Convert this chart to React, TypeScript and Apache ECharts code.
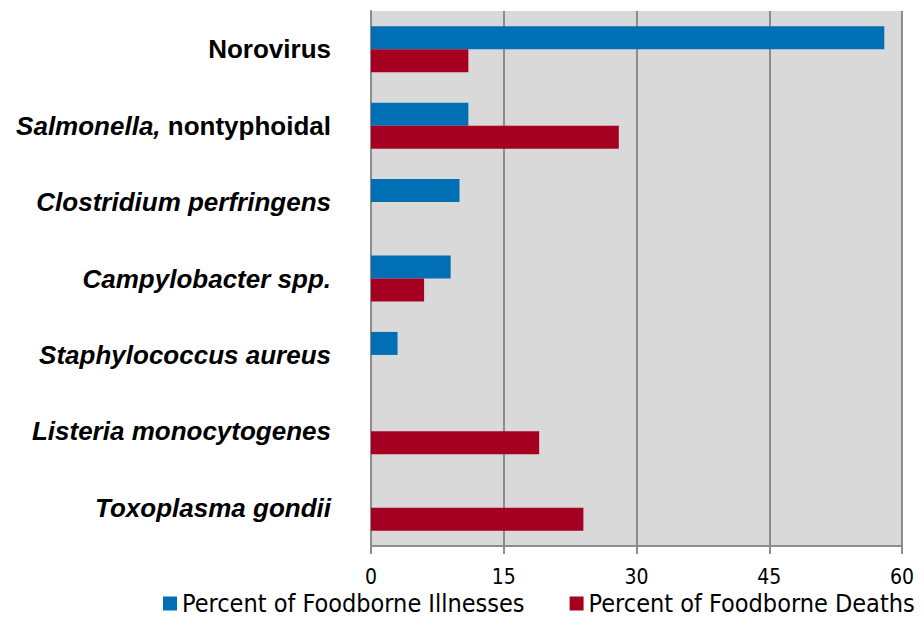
import React, { useEffect, useRef } from "react";
import * as echarts from "echarts";

const categories = [
  "Norovirus",
  "Salmonella, nontyphoidal",
  "Clostridium perfringens",
  "Campylobacter spp.",
  "Staphylococcus aureus",
  "Listeria monocytogenes",
  "Toxoplasma gondii",
];
const illnesses = [58, 11, 10, 9, 3, 0, 0];
const deaths = [11, 28, 0, 6, 0, 19, 24];
const xTicks = [0, 15, 30, 45, 60];

const labelFormatter = (v: string) => {
  if (v === "Norovirus") return "{b|" + v + "}";
  if (v.startsWith("Salmonella")) return "{bi|Salmonella,}{b| nontyphoidal}";
  return "{bi|" + v + "}";
};

const narrow = "DejaVu Sans Condensed, Liberation Sans Narrow, Liberation Sans, sans-serif";

export default function App() {
  const ref = useRef<HTMLDivElement>(null);
  useEffect(() => {
    const chart = echarts.init(ref.current!, undefined, { renderer: "svg" });
    chart.setOption({
      animation: false,
      backgroundColor: "#ffffff",
      grid: {
        left: 371,
        right: 22,
        top: 11,
        bottom: 72,
        show: true,
        backgroundColor: "#D9D9D9",
        borderWidth: 0,
      },
      legend: {
        top: 589,
        left: 158,
        width: 780,
        itemWidth: 14,
        itemHeight: 14,
        itemGap: 45,
        icon: "rect",
        padding: [2, 5, 0, 5],
        textStyle: {
          fontFamily: narrow,
          fontSize: 25,
          color: "#000",
        },
        data: ["Percent of Foodborne Illnesses", "Percent of Foodborne Deaths"],
      },
      xAxis: {
        type: "value",
        min: xTicks[0],
        max: xTicks[xTicks.length - 1],
        interval: 15,
        axisLine: { show: true, lineStyle: { color: "#8C8C8C", width: 2 } },
        axisTick: { show: true, length: 8, lineStyle: { color: "#8C8C8C", width: 2 } },
        splitLine: { show: true, lineStyle: { color: "#8C8C8C", width: 2 } },
        axisLabel: {
          fontFamily: narrow,
          fontSize: 21,
          color: "#000",
          margin: 20,
        },
      },
      yAxis: {
        type: "category",
        inverse: true,
        data: categories,
        axisLine: { show: true, lineStyle: { color: "#8C8C8C", width: 2 } },
        axisTick: { show: false },
        axisLabel: {
          margin: 40,
          formatter: labelFormatter,
          rich: {
            b: {
              fontFamily: "Liberation Sans, Arial, sans-serif",
              fontWeight: "bold",
              fontSize: 26,
              color: "#000",
            },
            bi: {
              fontFamily: "Liberation Sans, Arial, sans-serif",
              fontWeight: "bold",
              fontStyle: "italic",
              fontSize: 26,
              color: "#000",
            },
          },
        },
      },
      series: [
        {
          name: "Percent of Foodborne Illnesses",
          type: "bar",
          data: illnesses,
          barWidth: 23,
          barGap: "0%",
          itemStyle: { color: "#006FB4" },
        },
        {
          name: "Percent of Foodborne Deaths",
          type: "bar",
          data: deaths,
          barWidth: 23,
          barGap: "0%",
          itemStyle: { color: "#A50021" },
        },
      ],
    });
    return () => chart.dispose();
  }, []);
  return (
    <div
      ref={ref}
      style={{ position: "absolute", left: 0, top: 0, width: 924, height: 618 }}
    />
  );
}
